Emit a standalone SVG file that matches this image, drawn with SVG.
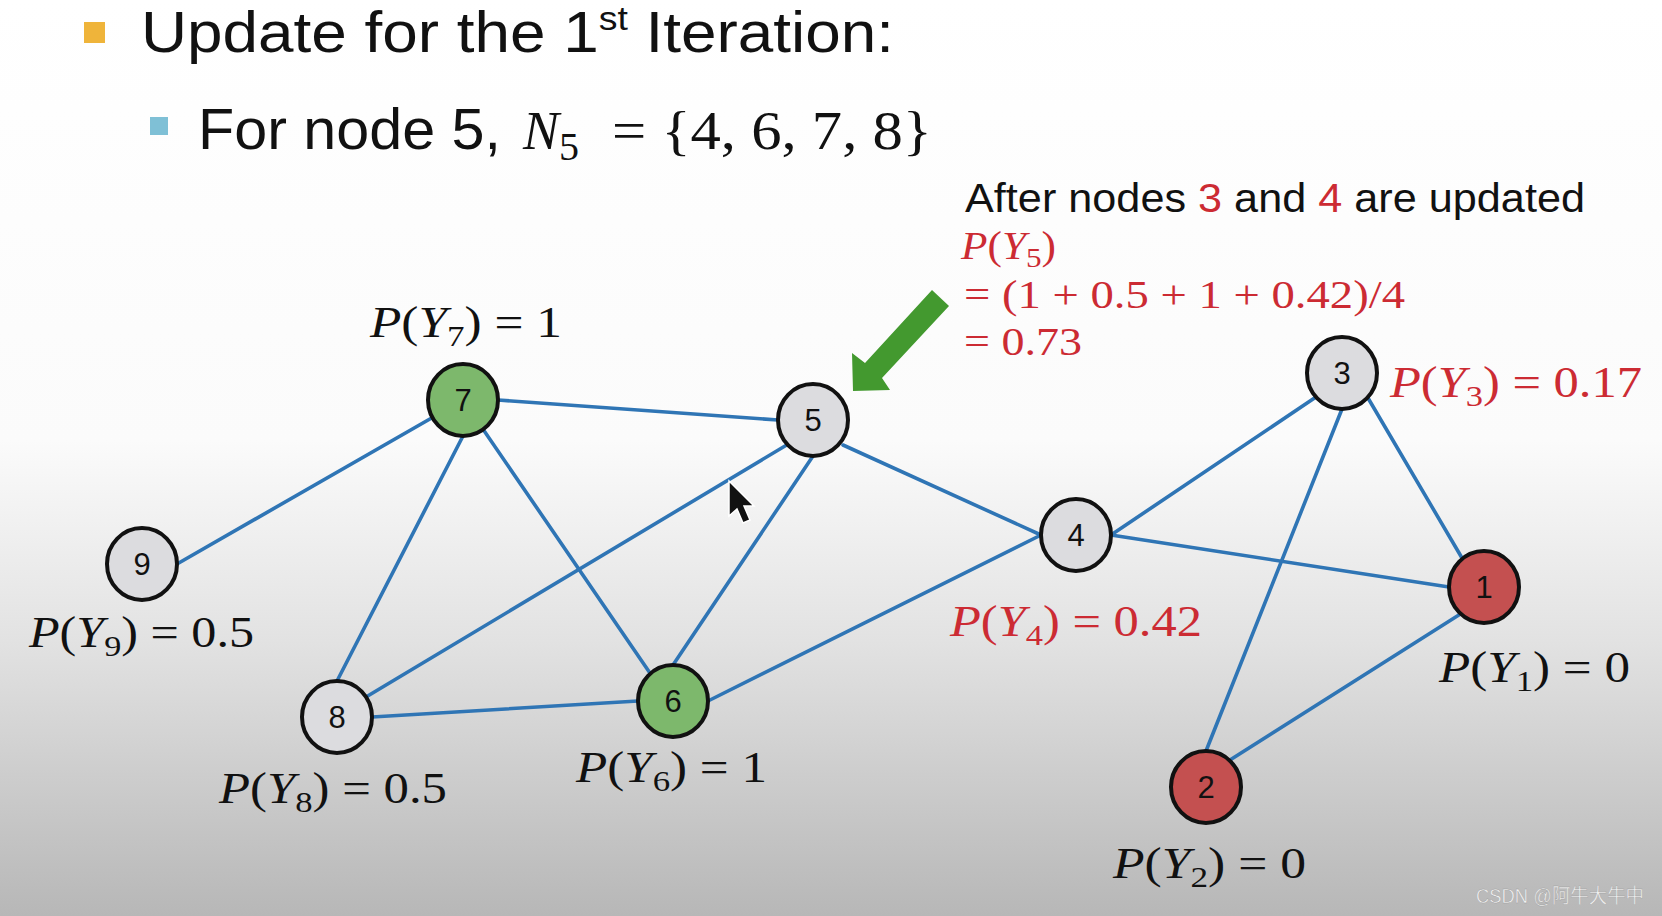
<svg xmlns="http://www.w3.org/2000/svg" width="1662" height="916" viewBox="0 0 1662 916">
<defs>
<linearGradient id="bg" x1="0" y1="0" x2="0" y2="916" gradientUnits="userSpaceOnUse">
<stop offset="0" stop-color="#ffffff"/>
<stop offset="0.48" stop-color="#fbfbfb"/>
<stop offset="0.7" stop-color="#e2e2e2"/>
<stop offset="1" stop-color="#b7b7b7"/>
</linearGradient>
<style>
.h{font-family:"Liberation Sans",Arial,sans-serif;fill:#111}
.m{font-family:"Liberation Serif","Times New Roman",serif;fill:#111;font-size:44px}
.am{font-family:"Liberation Serif","Times New Roman",serif;fill:#cc2b33;font-size:39px}
.it{font-style:italic}
.red{fill:#cc2b33}
.e{stroke:#2f75b5;stroke-width:3.6;fill:none;stroke-linecap:round}
.n{stroke:#111;stroke-width:4}
.g{fill:#dcdcdf}
.gr{fill:#7db86c}
.rd{fill:#c45050}
.nl{font-family:"Liberation Sans",Arial,sans-serif;font-size:31px;fill:#111;text-anchor:middle}
</style>
</defs>
<rect width="1662" height="916" fill="url(#bg)"/>

<g id="header">
<rect x="84" y="22" width="21" height="21" fill="#efb43a"/>
<text class="h" x="141" y="52" font-size="58" textLength="753" lengthAdjust="spacingAndGlyphs">Update for the 1<tspan font-size="34" dy="-22">st</tspan><tspan dy="22"> Iteration:</tspan></text>
<rect x="150" y="117" width="18" height="18" fill="#7fc0d6"/>
<text class="h" x="198" y="149" font-size="58" textLength="303" lengthAdjust="spacingAndGlyphs">For node 5,</text>
<text x="523" y="149" font-family="Liberation Serif,serif" font-size="54" fill="#111"><tspan font-style="italic">N</tspan><tspan font-size="40" dy="11">5</tspan></text>
<text x="612" y="149" font-family="Liberation Serif,serif" font-size="54" fill="#111" textLength="320" lengthAdjust="spacingAndGlyphs">= {4, 6, 7, 8}</text>
</g>

<g id="annotation">
<text class="h" x="965" y="212" font-size="41" textLength="620" lengthAdjust="spacingAndGlyphs">After nodes <tspan class="red">3</tspan> and <tspan class="red">4</tspan> are updated</text>
<text class="am" x="961" y="259" textLength="95" lengthAdjust="spacingAndGlyphs"><tspan class="it">P</tspan>(<tspan class="it">Y</tspan><tspan font-size="28" dy="8">5</tspan><tspan dy="-8">)</tspan></text>
<text class="am" x="964" y="308" textLength="441" lengthAdjust="spacingAndGlyphs">= (1 + 0.5 + 1 + 0.42)/4</text>
<text class="am" x="964" y="355" textLength="118" lengthAdjust="spacingAndGlyphs">= 0.73</text>
<polygon points="853,391 852,353 865,363 932,290 949,306 882,378 890,390" fill="#43992f"/>
</g>

<g id="connectors">
<line class="e" x1="177" y1="564" x2="463" y2="400"/>
<line class="e" x1="498" y1="400" x2="778" y2="420"/>
<line class="e" x1="463" y1="436" x2="337" y2="681"/>
<line class="e" x1="463" y1="400" x2="652" y2="676"/>
<line class="e" x1="813" y1="456" x2="673" y2="665"/>
<line class="e" x1="790" y1="443" x2="366" y2="697"/>
<line class="e" x1="843" y1="445" x2="1041" y2="535"/>
<line class="e" x1="372" y1="717" x2="638" y2="701"/>
<line class="e" x1="708" y1="701" x2="1041" y2="535"/>
<line class="e" x1="1111" y1="535" x2="1316" y2="397"/>
<line class="e" x1="1111" y1="535" x2="1449" y2="587"/>
<line class="e" x1="1342" y1="409" x2="1206" y2="751"/>
<line class="e" x1="1368" y1="398" x2="1462" y2="558"/>
<line class="e" x1="1462" y1="613" x2="1230" y2="760"/>
</g>

<g id="node7"><ellipse class="n gr" cx="463" cy="400" rx="35" ry="36"/><text class="nl" x="463" y="411">7</text></g>
<g id="node5"><ellipse class="n g" cx="813" cy="420" rx="35" ry="36"/><text class="nl" x="813" y="431">5</text></g>
<g id="node9"><ellipse class="n g" cx="142" cy="564" rx="35" ry="36"/><text class="nl" x="142" y="575">9</text></g>
<g id="node8"><ellipse class="n g" cx="337" cy="717" rx="35" ry="36"/><text class="nl" x="337" y="728">8</text></g>
<g id="node6"><ellipse class="n gr" cx="673" cy="701" rx="35" ry="36"/><text class="nl" x="673" y="712">6</text></g>
<g id="node4"><ellipse class="n g" cx="1076" cy="535" rx="35" ry="36"/><text class="nl" x="1076" y="546">4</text></g>
<g id="node3"><ellipse class="n g" cx="1342" cy="373" rx="35" ry="36"/><text class="nl" x="1342" y="384">3</text></g>
<g id="node1"><ellipse class="n rd" cx="1484" cy="587" rx="35" ry="36"/><text class="nl" x="1484" y="598">1</text></g>
<g id="node2"><ellipse class="n rd" cx="1206" cy="787" rx="35" ry="36"/><text class="nl" x="1206" y="798">2</text></g>

<g id="labels">
<text class="m" x="370" y="337" textLength="192" lengthAdjust="spacingAndGlyphs"><tspan class="it">P</tspan>(<tspan class="it">Y</tspan><tspan font-size="30" dy="9">7</tspan><tspan dy="-9">) = 1</tspan></text>
<text class="m" x="29" y="647" textLength="225" lengthAdjust="spacingAndGlyphs"><tspan class="it">P</tspan>(<tspan class="it">Y</tspan><tspan font-size="30" dy="9">9</tspan><tspan dy="-9">) = 0.5</tspan></text>
<text class="m" x="219" y="803" textLength="228" lengthAdjust="spacingAndGlyphs"><tspan class="it">P</tspan>(<tspan class="it">Y</tspan><tspan font-size="30" dy="9">8</tspan><tspan dy="-9">) = 0.5</tspan></text>
<text class="m" x="576" y="782" textLength="191" lengthAdjust="spacingAndGlyphs"><tspan class="it">P</tspan>(<tspan class="it">Y</tspan><tspan font-size="30" dy="9">6</tspan><tspan dy="-9">) = 1</tspan></text>
<text class="m red" x="950" y="636" textLength="252" lengthAdjust="spacingAndGlyphs"><tspan class="it">P</tspan>(<tspan class="it">Y</tspan><tspan font-size="30" dy="9">4</tspan><tspan dy="-9">) = 0.42</tspan></text>
<text class="m red" x="1390" y="397" textLength="252" lengthAdjust="spacingAndGlyphs"><tspan class="it">P</tspan>(<tspan class="it">Y</tspan><tspan font-size="30" dy="9">3</tspan><tspan dy="-9">) = 0.17</tspan></text>
<text class="m" x="1439" y="682" textLength="191" lengthAdjust="spacingAndGlyphs"><tspan class="it">P</tspan>(<tspan class="it">Y</tspan><tspan font-size="30" dy="9">1</tspan><tspan dy="-9">) = 0</tspan></text>
<text class="m" x="1113" y="878" textLength="193" lengthAdjust="spacingAndGlyphs"><tspan class="it">P</tspan>(<tspan class="it">Y</tspan><tspan font-size="30" dy="9">2</tspan><tspan dy="-9">) = 0</tspan></text>
</g>

<g id="cursor">
<polygon points="729,481 729,516 737,509 743,523 750,520 744,506 754,506" fill="#111" stroke="#fff" stroke-width="1.5"/>
</g>

<text x="1476" y="903" font-family="'Liberation Sans','Noto Sans CJK SC',sans-serif" font-size="20" fill="#f2f2f2" stroke="#9a9a9a" stroke-width="0.4" textLength="168" lengthAdjust="spacingAndGlyphs">CSDN @阿牛大牛中</text>
</svg>
